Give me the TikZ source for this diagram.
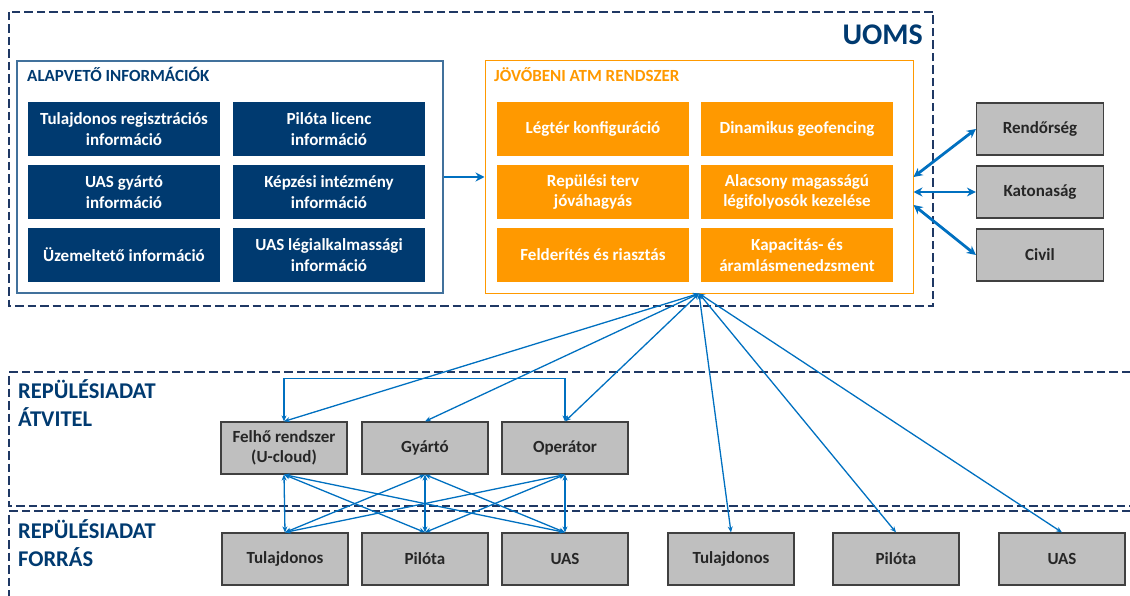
\documentclass[tikz,border=0pt]{standalone}
\usepackage{fontspec}
\setmainfont{Carlito}
\usetikzlibrary{arrows.meta,calc}
\definecolor{navy}{RGB}{0,58,112}
\definecolor{framenavy}{RGB}{31,56,100}
\definecolor{steel}{RGB}{65,113,156}
\definecolor{atmorange}{RGB}{255,153,0}
\definecolor{linkblue}{RGB}{0,112,192}
\definecolor{boxgray}{RGB}{191,191,191}
\definecolor{edgegray}{RGB}{64,64,64}
\definecolor{textgray}{RGB}{38,38,38}
\tikzset{
	infobox/.style={fill=navy,text=white,font=\bfseries\fontsize{17}{20.5}\selectfont,minimum width=192pt,minimum height=54pt,inner sep=0pt,align=center},
	atmbox/.style={infobox,fill=atmorange},
	actorbox/.style={draw=edgegray,line width=1.2pt,fill=boxgray,text=textgray,font=\bfseries\fontsize{17}{20.5}\selectfont,minimum width=126pt,minimum height=52pt,inner sep=0pt,align=center},
	zone/.style={draw=framenavy,line width=2.2pt,dash pattern=on 8.5pt off 4pt},
	zonetitle/.style={text=navy,font=\bfseries\fontsize{22.5}{28}\selectfont,inner sep=0pt,align=left,anchor=west},
	flow/.style={linkblue,line width=1.3pt,>={Stealth[length=6pt,width=5pt]},<->},
	bigflow/.style={linkblue,line width=2.8pt,>={Stealth[length=9pt,width=9pt]}}
}
\begin{document}
\begin{tikzpicture}[x=1pt,y=-1pt]
	\useasboundingbox (0,0) rectangle (1130,596);
	\draw[zone] (9,12) rectangle (933,306);
	\draw[zone] (1130,372) -| (9,506) -- (1130,506);
	\draw[zone] (1130,511) -| (9,596);
	\node[anchor=base east,text=navy,font=\bfseries\fontsize{30}{30}\selectfont,inner sep=0pt] (uoms) at (923,45) {UOMS};
	\node[zonetitle] (atvitel) at (18,403) {REPÜLÉSIADAT\\ÁTVITEL};
	\node[zonetitle] (forras) at (18,543) {REPÜLÉSIADAT\\FORRÁS};
	\node[draw=steel,line width=1.2pt,minimum width=426pt,minimum height=232pt,inner sep=0pt] (alap) at (230,177) {};
	\node[anchor=base west,text=navy,font=\bfseries\fontsize{17}{17}\selectfont,inner sep=0pt] (alaptitle) at (27,82) {ALAPVETŐ INFORMÁCIÓK};
	\node[infobox] (tulreg) at (124,129) {Tulajdonos regisztrációs\\információ};
	\node[infobox] (pillic) at (329,129) {Pilóta licenc\\információ};
	\node[infobox] (gyarto) at (124,192) {UAS gyártó\\információ};
	\node[infobox] (kepzes) at (329,192) {Képzési intézmény\\információ};
	\node[infobox] (uzem) at (124,255) {Üzemeltető információ};
	\node[infobox] (legialk) at (329,255) {UAS légialkalmassági\\információ};
	\node[draw=atmorange,line width=1pt,minimum width=428pt,minimum height=232pt,inner sep=0pt] (jovo) at (699,177) {};
	\node[anchor=base west,text=atmorange,font=\bfseries\fontsize{17}{17}\selectfont,inner sep=0pt] (jovotitle) at (494,82) {JÖVŐBENI ATM RENDSZER};
	\node[atmbox] (legter) at (593,129) {Légtér konfiguráció};
	\node[atmbox] (geofence) at (797,129) {Dinamikus geofencing};
	\node[atmbox] (repterv) at (593,192) {Repülési terv\\jóváhagyás};
	\node[atmbox] (folyoso) at (797,192) {Alacsony magasságú\\légifolyosók kezelése};
	\node[atmbox] (felderit) at (593,255) {Felderítés és riasztás};
	\node[atmbox] (kapacitas) at (797,255) {Kapacitás- és\\áramlásmenedzsment};
	\node[actorbox,minimum width=127pt] (rend) at (1040,129) {Rendőrség};
	\node[actorbox,minimum width=127pt] (kat) at (1040,192) {Katonaság};
	\node[actorbox,minimum width=127pt] (civil) at (1040,255) {Civil};
	\node[actorbox] (felho) at (284,448) {Felhő rendszer\\(U-cloud)};
	\node[actorbox] (gyar) at (425,448) {Gyártó};
	\node[actorbox] (oper) at (565,448) {Operátor};
	\node[actorbox] (tul) at (285,559) {Tulajdonos};
	\node[actorbox] (pil) at (425,559) {Pilóta};
	\node[actorbox] (uas) at (565,559) {UAS};
	\node[actorbox] (tulb) at (731,559) {Tulajdonos};
	\node[actorbox] (pilb) at (896,559) {Pilóta};
	\node[actorbox] (uasb) at (1062,559) {UAS};
	\coordinate (civend) at ($(jovo.east)+(0,28)$);
	\coordinate (cloudbar) at ($(oper.north)+(0,-43)$);
	\draw[bigflow,->] (alap.east) -- (jovo.west);
	\draw[bigflow,<->] (rend.west) -- (jovo.east);
	\draw[bigflow,<->] (kat.west) -- (kat.west -| jovo.east);
	\draw[bigflow,<->] (civil.west) -- (civend);
	\draw[flow] (jovo.south) -- (felho.north);
	\draw[flow] (jovo.south) -- (gyar.north);
	\draw[flow] (jovo.south) -- (oper.north);
	\draw[flow] (jovo.south) -- (tulb.north);
	\draw[flow] (jovo.south) -- (pilb.north);
	\draw[flow] (jovo.south) -- (uasb.north);
	\draw[flow] (felho.north) |- (cloudbar) -- (oper.north);
	\draw[flow] (felho.south) -- (tul.north);
	\draw[flow] (felho.south) -- (pil.north);
	\draw[flow] (felho.south) -- (uas.north);
	\draw[flow] (gyar.south) -- (tul.north);
	\draw[flow] (gyar.south) -- (pil.north);
	\draw[flow] (gyar.south) -- (uas.north);
	\draw[flow] (oper.south) -- (tul.north);
	\draw[flow] (oper.south) -- (pil.north);
	\draw[flow] (oper.south) -- (uas.north);
\end{tikzpicture}
\end{document}
